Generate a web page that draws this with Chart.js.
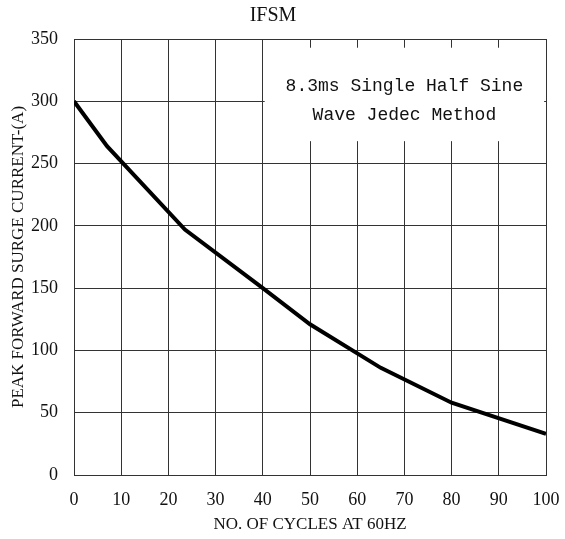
<!DOCTYPE html>
<html>
<head>
<meta charset="utf-8">
<script src="https://cdn.jsdelivr.net/npm/chart.js@4"></script>
<style>
  html, body { margin: 0; padding: 0; background: #fff; }
  #wrap { width: 565px; height: 539px; }
</style>
</head>
<body>
<div id="wrap"><canvas id="chartIfsm"></canvas></div>
<script>
// number of cycles at 60Hz
const cycles = [0, 7, 23.5, 40, 50, 65, 80, 100];
// peak forward surge current (A)
const surgeCurrent = [300, 264, 197, 150, 121, 86, 58, 33];

const xTicks = [0, 10, 20, 30, 40, 50, 60, 70, 80, 90, 100];
const yTicks = [0, 50, 100, 150, 200, 250, 300, 350];

const noteLines = ["8.3ms Single Half Sine", "Wave Jedec Method"];

const serif = "'Liberation Serif', 'DejaVu Serif', serif";

// white note box over the grid, text in monospaced serif
const noteBox = {
    id: "noteBox",
    beforeDatasetsDraw(chart) {
        const { ctx, scales } = chart;
        const x1 = scales.x.getPixelForValue(40.4);
        const x2 = scales.x.getPixelForValue(99.6);
        const y1 = scales.y.getPixelForValue(343);
        const y2 = scales.y.getPixelForValue(268);
        ctx.save();
        ctx.fillStyle = "#fff";
        ctx.fillRect(x1, y1, x2 - x1, y2 - y1);
        ctx.fillStyle = "#111";
        ctx.font = "18px 'Liberation Mono', monospace";
        ctx.textAlign = "center";
        ctx.textBaseline = "middle";
        const cx = (x1 + x2) / 2;
        ctx.fillText(noteLines[0], cx, scales.y.getPixelForValue(312));
        ctx.fillText(noteLines[1], cx, scales.y.getPixelForValue(289));
        ctx.restore();
    },
};

const ctx = document.getElementById("chartIfsm");

new Chart(ctx, {
    type: "line",
    data: {
        datasets: [
            {
                label: "IFSM",
                data: cycles.map((c, i) => ({ x: c, y: surgeCurrent[i] })),
                borderColor: "#000",
                borderWidth: 4,
                pointRadius: 0,
                tension: 0,
                fill: false,
            },
        ],
    },
    options: {
        responsive: true,
        maintainAspectRatio: false,
        animation: false,
        layout: { padding: { left: 0, right: 19, top: 0, bottom: 0 } },
        plugins: {
            legend: { display: false },
            tooltip: { enabled: false },
            title: {
                display: true,
                text: "IFSM",
                color: "#111",
                font: { family: serif, size: 20, weight: "normal" },
                padding: { top: 4, bottom: 11 },
            },
        },
        scales: {
            x: {
                type: "linear",
                min: 0,
                max: 100,
                afterBuildTicks: (s) => { s.ticks = xTicks.map((v) => ({ value: v })); },
                afterFit: (s) => {
                    s.height = 64;
                    s.paddingLeft = 0;
                    s.paddingRight = 0;
                },
                grid: { color: "#333", lineWidth: 1, drawTicks: false },
                border: { color: "#333", width: 1 },
                ticks: {
                    color: "#111",
                    padding: 14,
                    maxRotation: 0,
                    font: { family: serif, size: 18 },
                },
                title: {
                    display: true,
                    text: "NO. OF CYCLES AT 60HZ",
                    color: "#111",
                    font: { family: serif, size: 17 },
                    padding: { top: 2, bottom: 4 },
                },
            },
            y: {
                min: 0,
                max: 350,
                afterBuildTicks: (s) => { s.ticks = yTicks.map((v) => ({ value: v })); },
                afterFit: (s) => { s.width = 74; },
                grid: { color: "#333", lineWidth: 1, drawTicks: false },
                border: { color: "#333", width: 1 },
                ticks: {
                    color: "#111",
                    padding: 16,
                    font: { family: serif, size: 18 },
                },
                title: {
                    display: true,
                    text: "PEAK FORWARD SURGE CURRENT-(A)",
                    color: "#111",
                    font: { family: serif, size: 17 },
                    padding: { top: 8, bottom: 4 },
                },
            },
        },
    },
    plugins: [noteBox],
});
</script>
</body>
</html>
